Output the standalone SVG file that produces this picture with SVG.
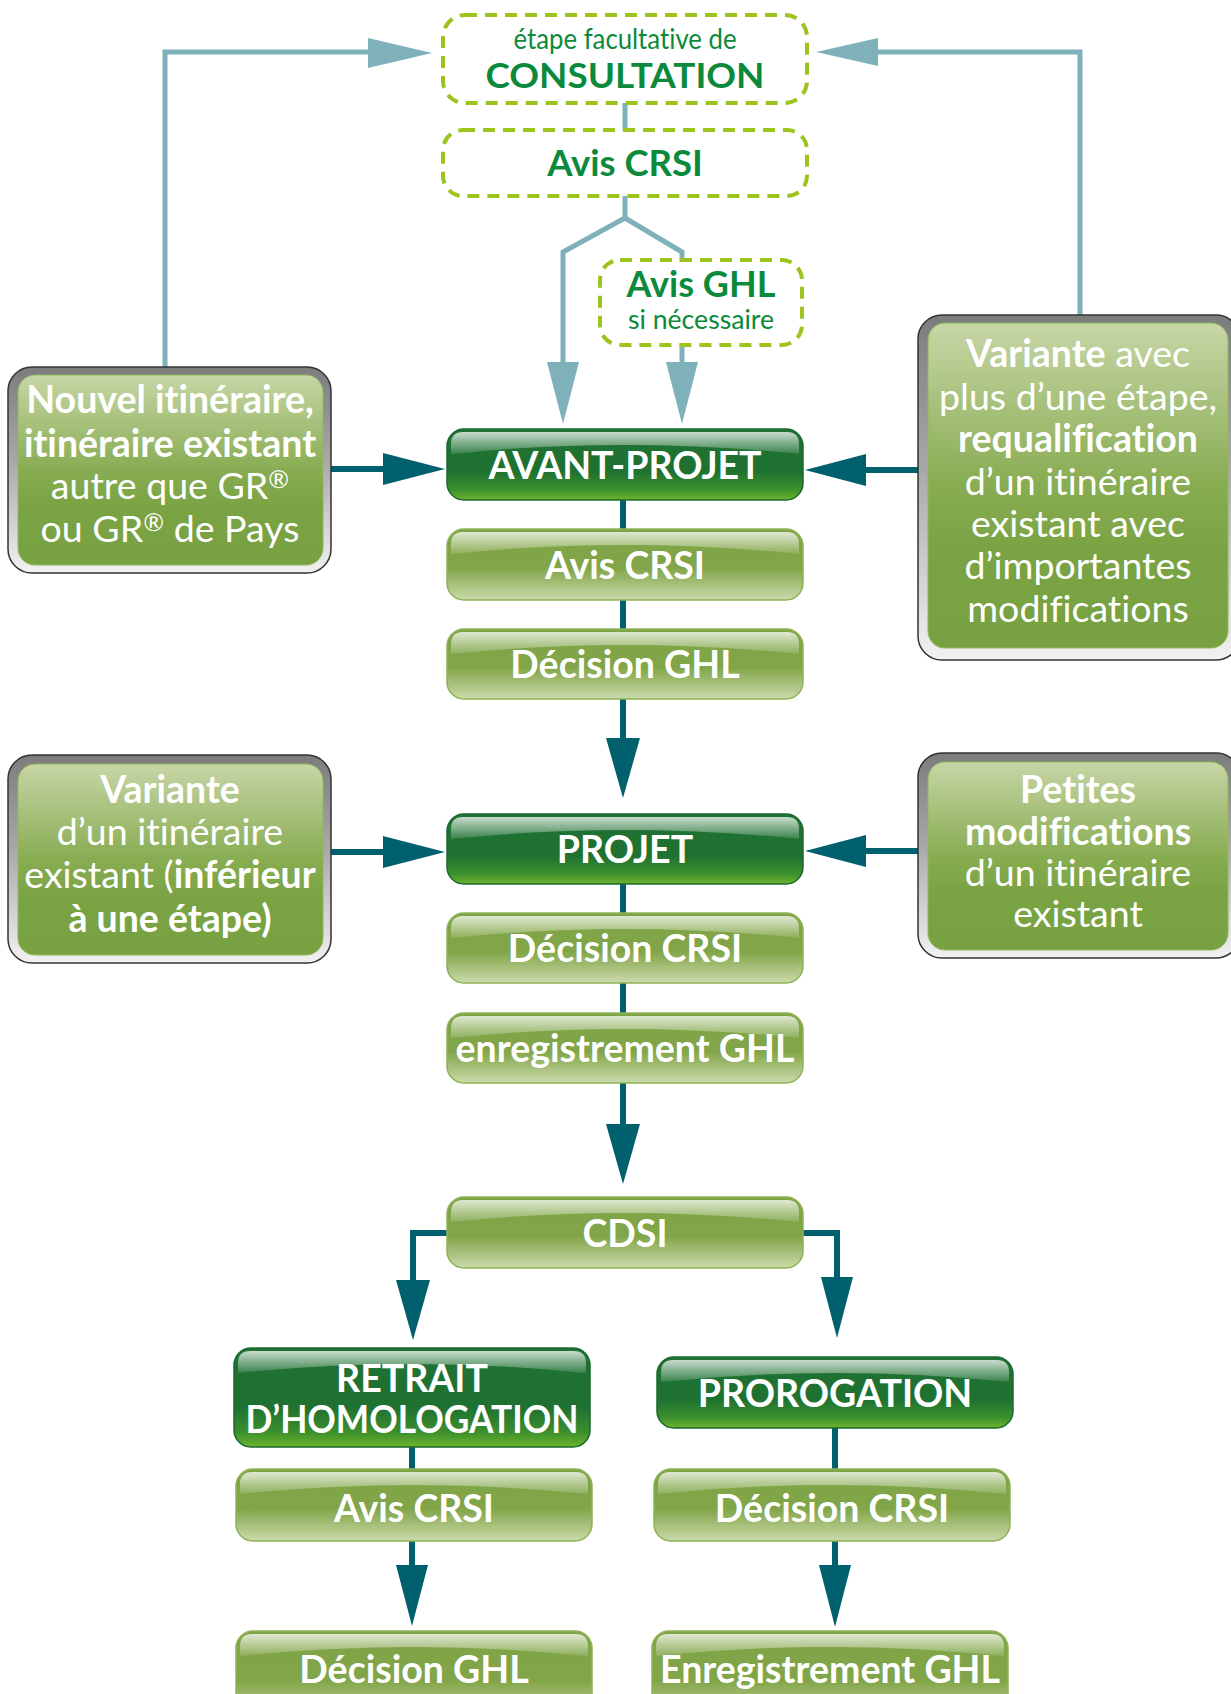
<svg xmlns="http://www.w3.org/2000/svg" width="1231" height="1694" viewBox="0 0 1231 1694">
<defs>
<linearGradient id="gLight" x1="0" y1="0" x2="0" y2="1">
<stop offset="0" stop-color="#7fa446"/><stop offset="0.55" stop-color="#81a548"/><stop offset="1" stop-color="#cbdaab"/>
</linearGradient>
<linearGradient id="gDark" x1="0" y1="0" x2="0" y2="1">
<stop offset="0" stop-color="#1f7234"/><stop offset="0.6" stop-color="#1f7131"/><stop offset="0.85" stop-color="#3c8f2c"/><stop offset="1" stop-color="#6db42e"/>
</linearGradient>
<linearGradient id="gGloss" x1="0" y1="0" x2="0" y2="1">
<stop offset="0" stop-color="#ffffff" stop-opacity="0.75"/><stop offset="1" stop-color="#ffffff" stop-opacity="0.12"/>
</linearGradient>
<linearGradient id="gFrame" x1="0" y1="0" x2="0" y2="1">
<stop offset="0" stop-color="#7c7c7c"/><stop offset="0.45" stop-color="#a8a8a8"/><stop offset="1" stop-color="#f2f2f2"/>
</linearGradient>
<linearGradient id="gSide" x1="0" y1="0" x2="0" y2="1">
<stop offset="0" stop-color="#c7d6a6"/><stop offset="0.5" stop-color="#88ac52"/><stop offset="0.7" stop-color="#7aa343"/><stop offset="1" stop-color="#78a141"/>
</linearGradient>
<path id="gloss" d="M4,25 L4,15 Q4,3 16,3 L340,3 Q352,3 352,15 L352,25 Q178,7 4,25 Z" fill="url(#gGloss)"/>
<style>
text{font-variant-ligatures:none;font-feature-settings:"liga" 0,"clig" 0,"dlig" 0}
.light{fill:url(#gLight);stroke:#8db356;stroke-width:1.5}
.dark{fill:url(#gDark);stroke:#1a6a2e;stroke-width:1.5}
.frame{fill:url(#gFrame);stroke:#333333;stroke-width:1.5}
.side{fill:url(#gSide);stroke:#8fb85a;stroke-width:1}
.dash{fill:none;stroke:#9dc41e;stroke-width:4;stroke-dasharray:12 8}
.bt{font-family:Lato,'Open Sans',sans-serif;font-weight:bold;font-size:37.5px;fill:#ffffff;text-anchor:middle}
.st{font-family:Lato,'Open Sans',sans-serif;font-size:37.5px;fill:#ffffff;text-anchor:middle}
.b{font-weight:bold}
.gt{font-family:Lato,'Open Sans',sans-serif;fill:#0b8a3b;text-anchor:middle}
.lb{fill:none;stroke:#7fb1bb;stroke-width:5}
.lbh{fill:#7fb1bb}
.tl{fill:none;stroke:#00606d;stroke-width:6}
.th{fill:#00606d}
</style>
</defs>
<rect width="1231" height="1694" fill="#ffffff"/>

<g id="connectors">
<path class="lb" d="M165,367 V52 H372"/>
<polygon class="lbh" points="368,38 432,53 368,68"/>
<path class="lb" d="M1080,315 V52 H874"/>
<polygon class="lbh" points="878,38 816,52 878,66"/>
<path class="lb" d="M625,103 V130"/>
<path class="lb" d="M625,196 V218 L563,252 V366"/>
<path class="lb" d="M625,218 L682,252 V262"/>
<polygon class="lbh" points="547,362 563,424 579,362"/>
<path class="lb" d="M682,345 V366"/>
<polygon class="lbh" points="666,362 682,424 698,362"/>

<path class="tl" d="M331,469 H386"/>
<polygon class="th" points="383,453 445,469 383,485"/>
<path class="tl" d="M918,470 H862"/>
<polygon class="th" points="866,454 805,470 866,486"/>
<path class="tl" d="M331,852 H386"/>
<polygon class="th" points="383,836 445,852 383,868"/>
<path class="tl" d="M918,851 H862"/>
<polygon class="th" points="866,835 805,851 866,867"/>
<path class="tl" d="M623,500 V529 M623,600 V629 M623,699 V742"/>
<polygon class="th" points="606,738 623,798 640,738"/>
<path class="tl" d="M623,884 V913 M623,983 V1013 M623,1083 V1128"/>
<polygon class="th" points="606,1124 623,1184 640,1124"/>
<path class="tl" d="M447,1233 H413 V1283"/>
<polygon class="th" points="396,1280 413,1340 430,1280"/>
<path class="tl" d="M803,1233 H837 V1280"/>
<polygon class="th" points="821,1277 837,1338 853,1277"/>
<path class="tl" d="M412,1447 V1469 M412,1541 V1568"/>
<polygon class="th" points="396,1565 412,1626 428,1565"/>
<path class="tl" d="M835,1428 V1469 M835,1541 V1568"/>
<polygon class="th" points="819,1565 835,1627 851,1565"/>
</g>

<g id="consultation">
<rect class="dash" x="443" y="15" width="364" height="88" rx="22"/>
<text class="gt" x="625" y="49" font-size="29" textLength="223" lengthAdjust="spacingAndGlyphs">étape facultative de</text>
<text class="gt" x="625" y="88" font-size="35" font-weight="bold" textLength="279" lengthAdjust="spacingAndGlyphs">CONSULTATION</text>
</g>
<g id="avis-crsi-consult">
<rect class="dash" x="443" y="130" width="364" height="66" rx="20"/>
<text class="gt" x="625" y="176" font-size="36.5" font-weight="bold">Avis CRSI</text>
</g>
<g id="avis-ghl">
<rect class="dash" x="600" y="260" width="202" height="85" rx="20"/>
<text class="gt" x="701" y="297" font-size="36" font-weight="bold">Avis GHL</text>
<text class="gt" x="701" y="329" font-size="27" textLength="146" lengthAdjust="spacingAndGlyphs">si nécessaire</text>
</g>

<g id="nouvel">
<rect class="frame" x="8" y="367" width="323" height="206" rx="24"/>
<rect class="side" x="18" y="375" width="305" height="190" rx="17"/>
<text class="st" x="170" y="413"><tspan class="b">Nouvel itinéraire,</tspan></text>
<text class="st" x="170" y="457" font-size="36.5"><tspan class="b">itinéraire existant</tspan></text>
<text class="st" x="170" y="499">autre que GR<tspan font-size="25" dy="-11">®</tspan></text>
<text class="st" x="170" y="542">ou GR<tspan font-size="25" dy="-11">®</tspan><tspan dy="11"> de Pays</tspan></text>
</g>

<g id="variante-plus">
<rect class="frame" x="918" y="315" width="322" height="345" rx="24"/>
<rect class="side" x="928" y="323" width="300" height="325" rx="17"/>
<text class="st" x="1078" y="367"><tspan class="b">Variante</tspan> avec</text>
<text class="st" x="1078" y="410">plus d’une étape,</text>
<text class="st" x="1078" y="452"><tspan class="b">requalification</tspan></text>
<text class="st" x="1078" y="495">d’un itinéraire</text>
<text class="st" x="1078" y="537">existant avec</text>
<text class="st" x="1078" y="579">d’importantes</text>
<text class="st" x="1078" y="622">modifications</text>
</g>

<g id="variante-inf">
<rect class="frame" x="8" y="755" width="323" height="208" rx="24"/>
<rect class="side" x="18" y="764" width="305" height="191" rx="17"/>
<text class="st" x="170" y="803"><tspan class="b">Variante</tspan></text>
<text class="st" x="170" y="845">d’un itinéraire</text>
<text class="st" x="170" y="888">existant (<tspan class="b">inférieur</tspan></text>
<text class="st" x="170" y="932"><tspan class="b">à une étape)</tspan></text>
</g>

<g id="petites">
<rect class="frame" x="918" y="753" width="322" height="205" rx="24"/>
<rect class="side" x="928" y="762" width="300" height="188" rx="17"/>
<text class="st" x="1078" y="803"><tspan class="b">Petites</tspan></text>
<text class="st" x="1078" y="845"><tspan class="b">modifications</tspan></text>
<text class="st" x="1078" y="886">d’un itinéraire</text>
<text class="st" x="1078" y="927">existant</text>
</g>

<g id="avant-projet">
<rect class="dark" x="447" y="429" width="356" height="71" rx="17"/>
<use href="#gloss" x="447" y="429"/>
<text class="bt" x="625" y="479">AVANT-PROJET</text>
</g>
<g id="avis-crsi-1">
<rect class="light" x="447" y="529" width="356" height="71" rx="17"/>
<use href="#gloss" x="447" y="529"/>
<text class="bt" x="625" y="579">Avis CRSI</text>
</g>
<g id="decision-ghl-1">
<rect class="light" x="447" y="629" width="356" height="70" rx="17"/>
<use href="#gloss" x="447" y="629"/>
<text class="bt" x="625" y="678">Décision GHL</text>
</g>
<g id="projet">
<rect class="dark" x="447" y="814" width="356" height="70" rx="17"/>
<use href="#gloss" x="447" y="814"/>
<text class="bt" x="625" y="863">PROJET</text>
</g>
<g id="decision-crsi-1">
<rect class="light" x="447" y="913" width="356" height="70" rx="17"/>
<use href="#gloss" x="447" y="913"/>
<text class="bt" x="625" y="962">Décision CRSI</text>
</g>
<g id="enregistrement-1">
<rect class="light" x="447" y="1013" width="356" height="70" rx="17"/>
<use href="#gloss" x="447" y="1013"/>
<text class="bt" x="625" y="1062">enregistrement GHL</text>
</g>
<g id="cdsi">
<rect class="light" x="447" y="1197" width="356" height="71" rx="17"/>
<use href="#gloss" x="447" y="1197"/>
<text class="bt" x="625" y="1247">CDSI</text>
</g>
<g id="retrait">
<rect class="dark" x="234" y="1348" width="356" height="99" rx="17"/>
<use href="#gloss" x="234" y="1348"/>
<text class="bt" x="412" y="1392" font-size="35.5">RETRAIT</text>
<text class="bt" x="412" y="1433" font-size="35.5" textLength="333" lengthAdjust="spacingAndGlyphs">D’HOMOLOGATION</text>
</g>
<g id="prorogation">
<rect class="dark" x="657" y="1357" width="356" height="71" rx="17"/>
<use href="#gloss" x="657" y="1357"/>
<text class="bt" x="835" y="1407">PROROGATION</text>
</g>
<g id="avis-crsi-2">
<rect class="light" x="236" y="1469" width="356" height="72" rx="17"/>
<use href="#gloss" x="236" y="1469"/>
<text class="bt" x="414" y="1522">Avis CRSI</text>
</g>
<g id="decision-crsi-2">
<rect class="light" x="654" y="1469" width="356" height="72" rx="17"/>
<use href="#gloss" x="654" y="1469"/>
<text class="bt" x="832" y="1522">Décision CRSI</text>
</g>
<g id="decision-ghl-2">
<rect class="light" x="236" y="1631" width="356" height="90" rx="17"/>
<use href="#gloss" x="236" y="1631"/>
<text class="bt" x="414" y="1683">Décision GHL</text>
</g>
<g id="enregistrement-2">
<rect class="light" x="652" y="1631" width="356" height="90" rx="17"/>
<use href="#gloss" x="652" y="1631"/>
<text class="bt" x="830" y="1683" textLength="340" lengthAdjust="spacingAndGlyphs">Enregistrement GHL</text>
</g>
</svg>
